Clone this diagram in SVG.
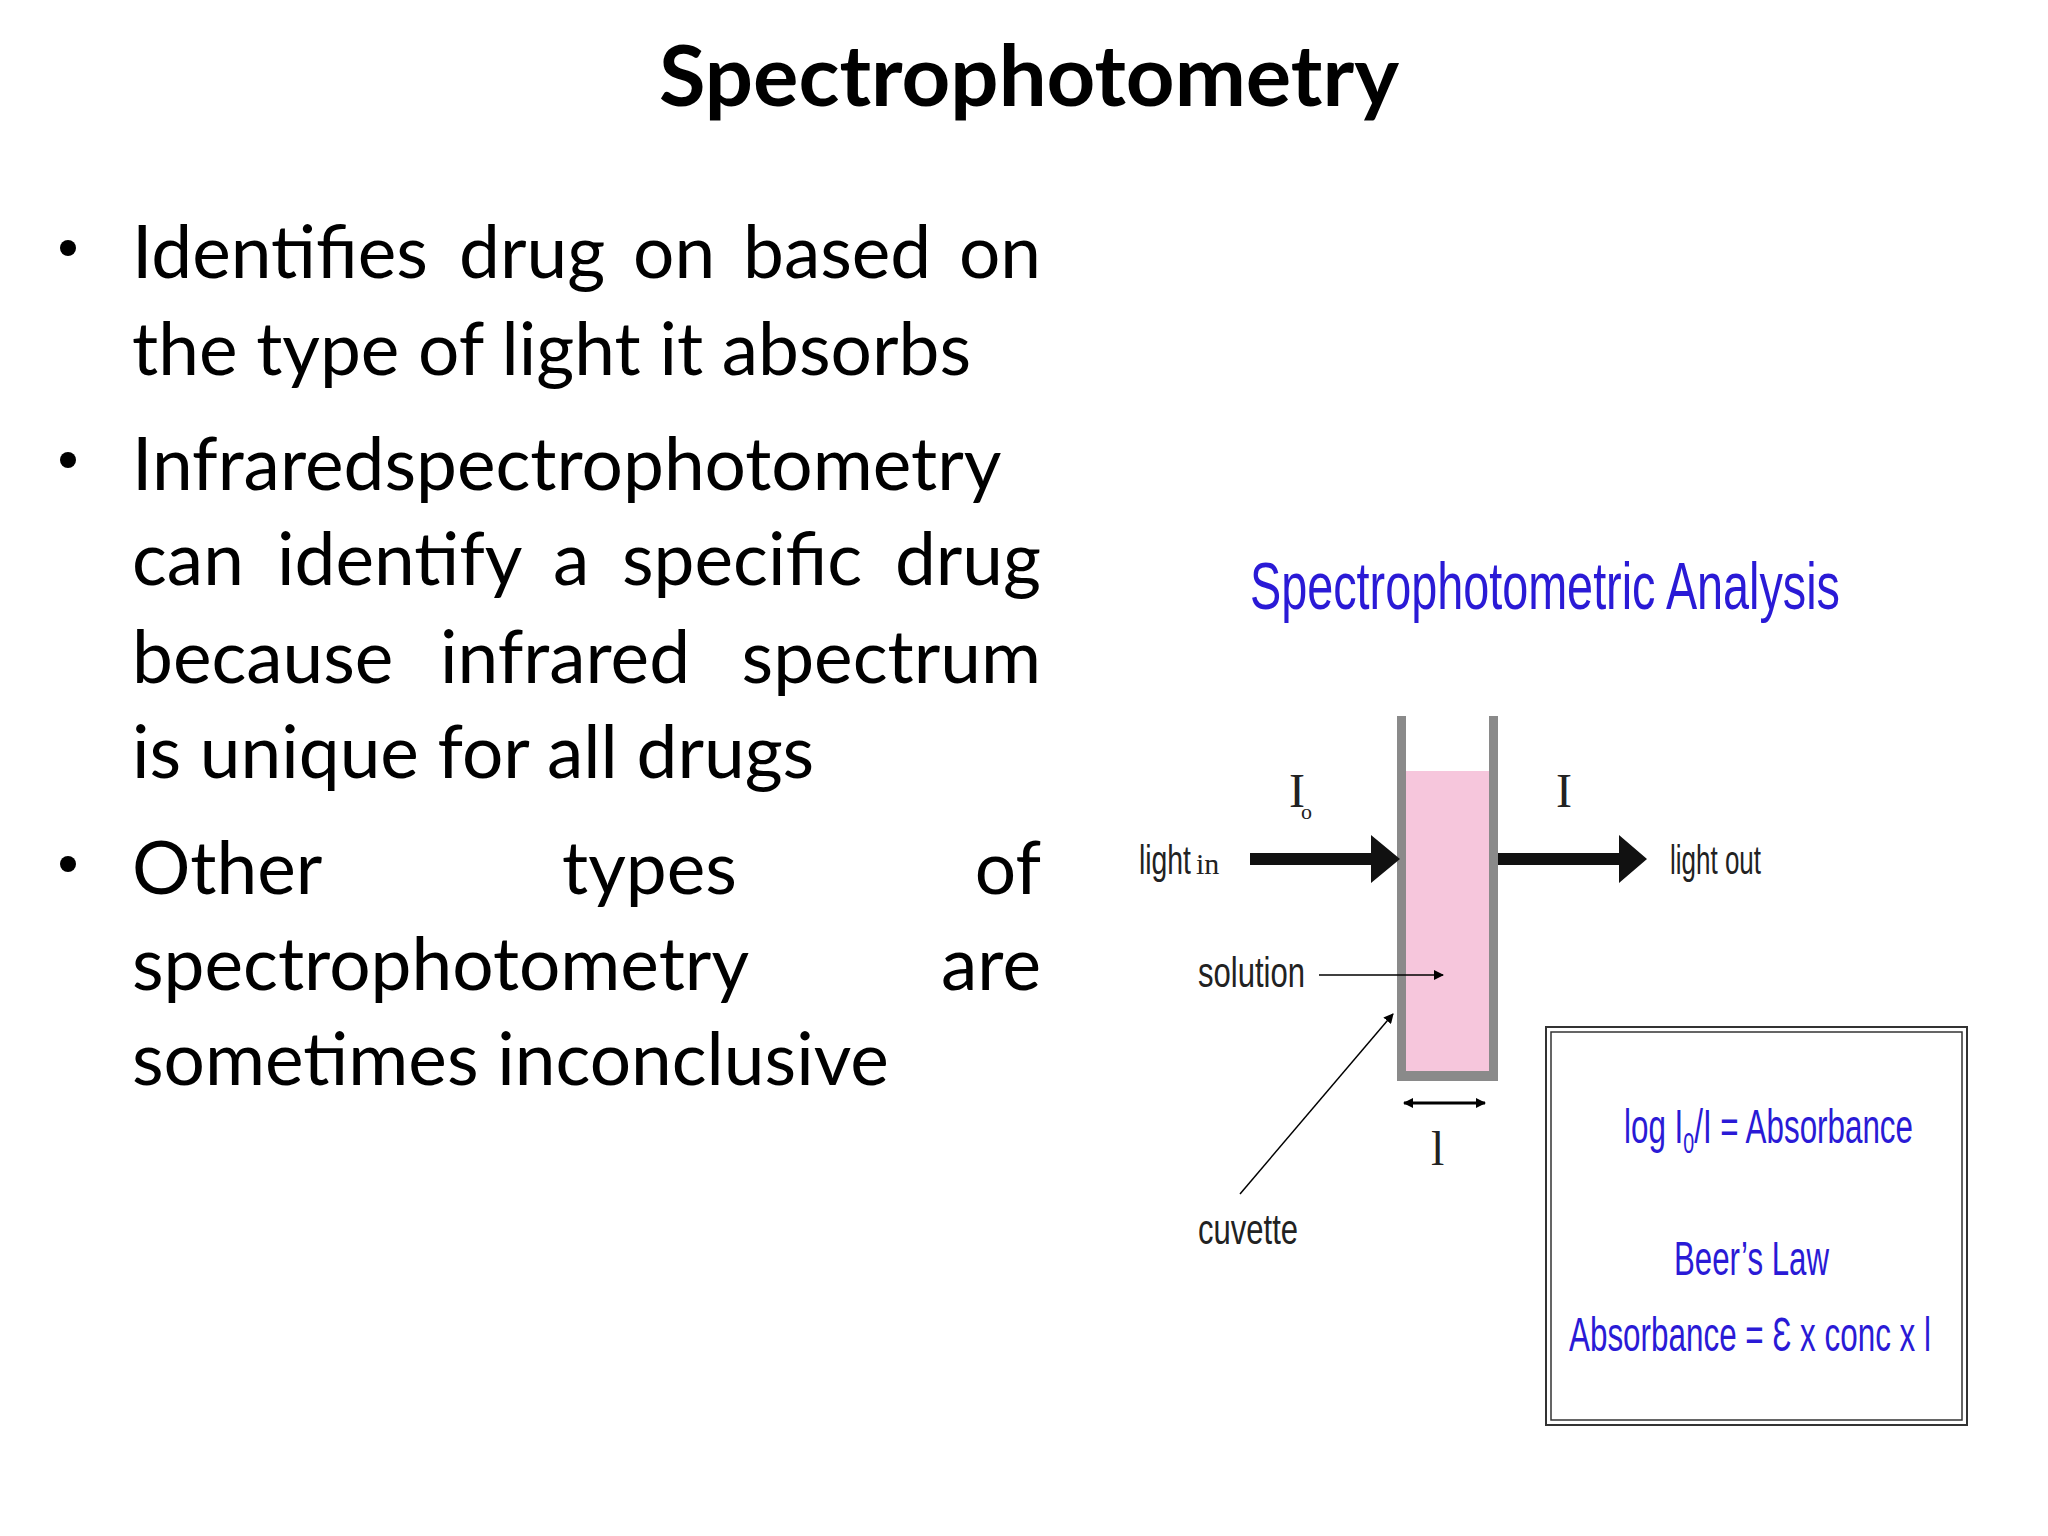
<svg xmlns="http://www.w3.org/2000/svg" width="2048" height="1536" viewBox="0 0 2048 1536">
<style>
.t{font-family:Lato,"Open Sans","Liberation Sans",sans-serif;font-size:73px;fill:#000}
.n{font-family:"Liberation Sans",Arial,sans-serif;fill:#222}
.b{font-family:"Liberation Sans",Arial,sans-serif;fill:#2a1ad6}
.s{font-family:"Liberation Serif",serif;fill:#222}
</style>
<defs>
<marker id="sm" markerWidth="10" markerHeight="10" refX="9" refY="5" orient="auto" markerUnits="userSpaceOnUse"><path d="M0,0 L10,5 L0,10 z" fill="#000"/></marker>
<marker id="sm2" markerWidth="10" markerHeight="10" refX="1" refY="5" orient="auto" markerUnits="userSpaceOnUse"><path d="M10,0 L0,5 L10,10 z" fill="#000"/></marker>
</defs>
<rect width="2048" height="1536" fill="#fff"/>
<text x="1029" y="106" text-anchor="middle" style="font-family:Lato,'Open Sans',sans-serif;font-weight:bold;font-size:85px">Spectrophotometry</text>
<g id="bullets">
<circle cx="68" cy="248" r="8"/><circle cx="68" cy="460" r="8"/><circle cx="68" cy="864" r="8"/>
<text class="t" y="278"><tspan x="132">Identifies</tspan><tspan x="459">drug</tspan><tspan x="633">on</tspan><tspan x="743">based</tspan></text>
<text class="t" x="1041" y="278" text-anchor="end">on</text>
<text class="t" x="132" y="375">the type of light it absorbs</text>
<text class="t" x="132" y="490">Infraredspectrophotometry</text>
<text class="t" y="585"><tspan x="132">can</tspan><tspan x="277">identify</tspan><tspan x="553">a</tspan><tspan x="622">specific</tspan></text>
<text class="t" x="1041" y="585" text-anchor="end">drug</text>
<text class="t" y="683"><tspan x="132">because</tspan><tspan x="440">infrared</tspan></text>
<text class="t" x="1041" y="683" text-anchor="end">spectrum</text>
<text class="t" x="132" y="778">is unique for all drugs</text>
<text class="t" y="894"><tspan x="132">Other</tspan><tspan x="562">types</tspan></text>
<text class="t" x="1041" y="894" text-anchor="end">of</text>
<text class="t" x="132" y="990">spectrophotometry</text>
<text class="t" x="1041" y="990" text-anchor="end">are</text>
<text class="t" x="132" y="1085">sometimes inconclusive</text>
</g>
<g transform="translate(-7,-3)">
<text class="b" x="1257" y="612" font-size="66" textLength="590" lengthAdjust="spacingAndGlyphs">Spectrophotometric Analysis</text>
<g id="cuvette">
<rect x="1413" y="774" width="83" height="300" fill="#f6c6dc"/>
<rect x="1404" y="719" width="9" height="365" fill="#8a8a8a"/>
<rect x="1496" y="719" width="9" height="365" fill="#8a8a8a"/>
<rect x="1404" y="1074" width="101" height="10" fill="#8a8a8a"/>
</g>
<g id="connectors">
<path d="M1257,856 H1378 V838 L1407,862 L1378,886 V868 H1257 z" fill="#111"/>
<path d="M1505,856 H1626 V838 L1654,862 L1626,886 V868 H1505 z" fill="#111"/>
<line x1="1326" y1="978" x2="1450" y2="978" stroke="#000" stroke-width="1.5" marker-end="url(#sm)"/>
<line x1="1247" y1="1197" x2="1400" y2="1017" stroke="#000" stroke-width="1.5" marker-end="url(#sm)"/>
<line x1="1411" y1="1106" x2="1492" y2="1106" stroke="#000" stroke-width="3" marker-end="url(#sm)" marker-start="url(#sm2)"/>
</g>
<g id="labels">
<text class="n" x="1146" y="877" font-size="40" textLength="52" lengthAdjust="spacingAndGlyphs">light</text>
<text class="s" x="1203" y="877" font-size="30">in</text>
<text class="s" x="1296" y="810" font-size="48">I</text><text class="s" x="1308" y="822" font-size="22">o</text>
<text class="s" x="1563" y="810" font-size="48">I</text>
<text class="n" x="1677" y="877" font-size="40" textLength="91" lengthAdjust="spacingAndGlyphs">light out</text>
<text class="n" x="1205" y="990" font-size="42" textLength="107" lengthAdjust="spacingAndGlyphs">solution</text>
<text class="s" x="1438" y="1168" font-size="48">l</text>
<text class="n" x="1205" y="1247" font-size="42" textLength="100" lengthAdjust="spacingAndGlyphs">cuvette</text>
</g>
<g id="beer">
<rect x="1553" y="1030" width="421" height="398" fill="none" stroke="#333" stroke-width="2"/>
<rect x="1558" y="1035" width="411" height="388" fill="none" stroke="#333" stroke-width="1.5"/>
<text class="b" x="1631" y="1146" font-size="48" textLength="289" lengthAdjust="spacingAndGlyphs">log I<tspan font-size="30" dy="10">0</tspan><tspan dy="-10">/I = Absorbance</tspan></text>
<text class="b" x="1681" y="1278" font-size="48" textLength="155" lengthAdjust="spacingAndGlyphs">Beer’s Law</text>
<text class="b" x="1576" y="1354" font-size="48" textLength="362" lengthAdjust="spacingAndGlyphs">Absorbance = Ɛ x conc x l</text>
</g>
</g>
</svg>
